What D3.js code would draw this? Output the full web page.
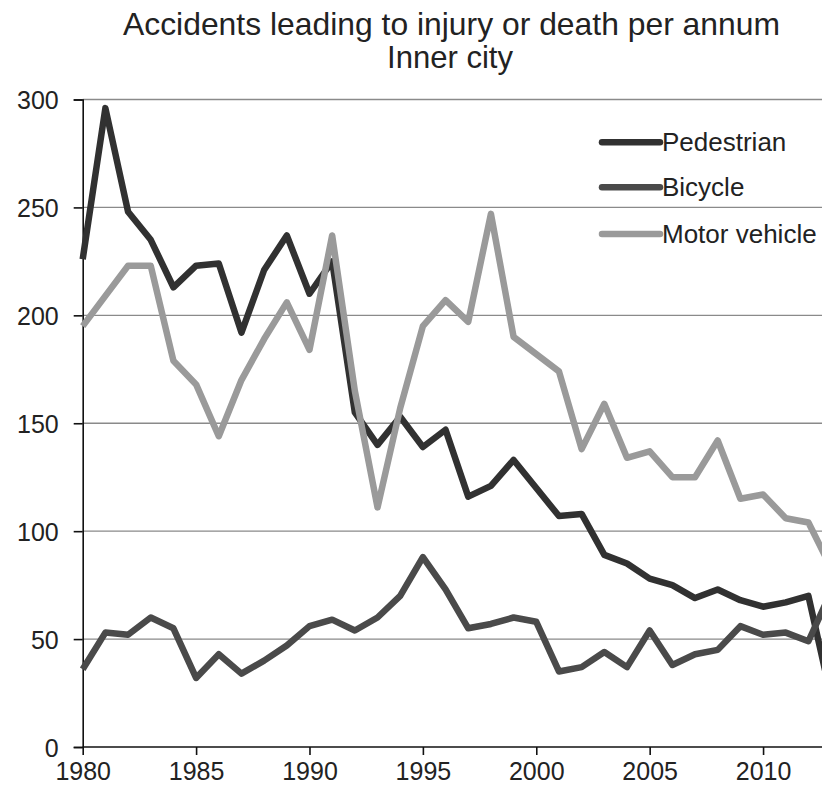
<!DOCTYPE html>
<html>
<head>
<meta charset="utf-8">
<script src="https://cdn.jsdelivr.net/npm/d3@7"></script>
<style>
  html, body { margin: 0; padding: 0; background: #fff; overflow: hidden; }
  svg { display: block; font-family: "Liberation Sans", Arial, sans-serif; }
</style>
</head>
<body>
<svg id="chart" width="822" height="797"></svg>
<script>
// Accidents per annum, inner city, 1980–2013
const years = d3.range(1980, 2014);

const pedestrian = [
  226, 296, 248, 235, 213, 223, 224, 192, 221, 237,
  210, 225, 155, 140, 153, 139, 147, 116, 121, 133,
  120, 107, 108, 89, 85, 78, 75, 69, 73, 68,
  65, 67, 70, 23
];

const bicycle = [
  36, 53, 52, 60, 55, 32, 43, 34, 40, 47,
  56, 59, 54, 60, 70, 88, 73, 55, 57, 60,
  58, 35, 37, 44, 37, 54, 38, 43, 45, 56,
  52, 53, 49, 72
];

const motorVehicle = [
  195, 209, 223, 223, 179, 168, 144, 170, 189, 206,
  184, 237, 165, 111, 157, 195, 207, 197, 247, 190,
  182, 174, 138, 159, 134, 137, 125, 125, 142, 115,
  117, 106, 104, 83
];

const seriesNames = ["Pedestrian", "Bicycle", "Motor vehicle"];
const seriesColors = ["#313131", "#4a4a4a", "#9a9a9a"];
const yTicks = [0, 50, 100, 150, 200, 250, 300];
const xTicks = [1980, 1985, 1990, 1995, 2000, 2005, 2010];
const titleLines = ["Accidents leading to injury  or death per annum", "Inner  city"];

const svg = d3.select("#chart");

const x = d3.scaleLinear().domain([1980, 2013]).range([82.7, 831.1]);
const y = d3.scaleLinear().domain([0, 300]).range([747, 99.5]);

// Title
svg.append("text")
  .attr("x", 451.5).attr("y", 35)
  .attr("text-anchor", "middle")
  .attr("font-size", 32).attr("fill", "#222")
  .attr("textLength", 657).attr("lengthAdjust", "spacingAndGlyphs")
  .text(titleLines[0]);
svg.append("text")
  .attr("x", 450).attr("y", 68)
  .attr("text-anchor", "middle")
  .attr("font-size", 32).attr("fill", "#222")
  .attr("textLength", 126).attr("lengthAdjust", "spacingAndGlyphs")
  .text(titleLines[1]);

// Horizontal gridlines
svg.append("g")
  .selectAll("line")
  .data(yTicks.filter(d => d > 0))
  .join("line")
  .attr("x1", x(1980)).attr("x2", 822)
  .attr("y1", d => y(d)).attr("y2", d => y(d))
  .attr("stroke", "#8a8a8a").attr("stroke-width", 1.4);

// Y axis
const yAxis = svg.append("g")
  .attr("transform", `translate(${x(1980)},0)`)
  .call(d3.axisLeft(y).tickValues(yTicks).tickSize(9).tickPadding(15).tickFormat(d3.format("d")));
yAxis.select(".domain").attr("stroke", "#111").attr("stroke-width", 1.6);
yAxis.selectAll(".tick line").attr("stroke", "#111").attr("stroke-width", 1.6);
yAxis.selectAll(".tick text")
  .attr("font-size", 25).attr("fill", "#222")
  .attr("font-family", "'Liberation Sans', Arial, sans-serif")
  .attr("dy", "0.36em");

// X axis
const xAxis = svg.append("g")
  .attr("transform", `translate(0,${y(0)})`)
  .call(d3.axisBottom(x).tickValues(xTicks).tickSize(8).tickPadding(7).tickFormat(d3.format("d")));
xAxis.select(".domain").remove();
xAxis.append("line")
  .attr("x1", x(1980)).attr("x2", 822)
  .attr("stroke", "#111").attr("stroke-width", 1.6);
xAxis.selectAll(".tick line").attr("stroke", "#111").attr("stroke-width", 1.6);
xAxis.selectAll(".tick text")
  .attr("font-size", 25).attr("fill", "#222")
  .attr("font-family", "'Liberation Sans', Arial, sans-serif");

// Series lines
const series = [pedestrian, bicycle, motorVehicle];
const line = d3.line()
  .x((d, i) => x(years[i]))
  .y(d => y(d));

svg.append("g")
  .selectAll("path")
  .data(series)
  .join("path")
  .attr("d", d => line(d))
  .attr("fill", "none")
  .attr("stroke", (d, i) => seriesColors[i])
  .attr("stroke-width", 6.5)
  .attr("stroke-linejoin", "round")
  .attr("stroke-linecap", "butt");

// Legend
const legend = svg.append("g");
const legendY = [142.3, 187.3, 234];
seriesNames.forEach((name, i) => {
  legend.append("line")
    .attr("x1", 602).attr("x2", 660)
    .attr("y1", legendY[i]).attr("y2", legendY[i])
    .attr("stroke", seriesColors[i])
    .attr("stroke-width", 6.5)
    .attr("stroke-linecap", "round");
  legend.append("text")
    .attr("x", 662).attr("y", legendY[i] + 9)
    .attr("font-size", 26).attr("fill", "#222")
    .text(name);
});
</script>
</body>
</html>
